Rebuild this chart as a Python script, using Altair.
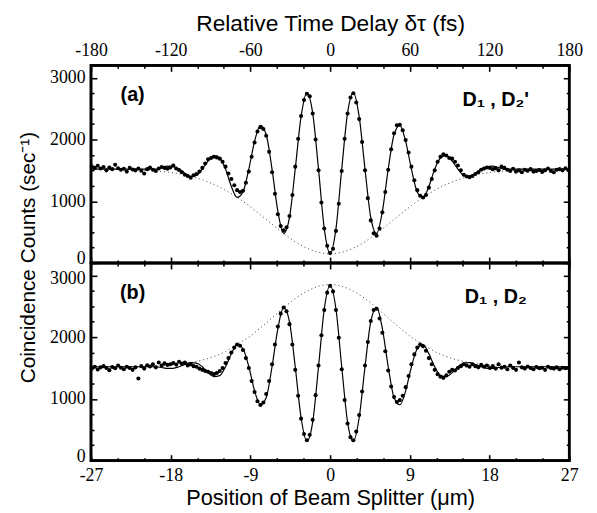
import altair as alt
import pandas as pd

# ---------------- data ----------------
DOT_X = [-26.90, -26.57, -26.24, -25.91, -25.58, -25.26, -24.93, -24.60, -24.27, -23.94,
         -23.62, -23.29, -22.96, -22.63, -22.30, -21.98, -21.65, -21.32, -20.99, -20.66,
         -20.34, -20.01, -19.68, -19.35, -19.02, -18.70, -18.37,
         -18.04, -17.71, -17.38, -17.06, -16.73, -16.40, -16.07, -15.74, -15.42, -15.09,
         -14.76, -14.43, -14.10, -13.78, -13.45, -13.12, -12.79, -12.46, -12.14, -11.81,
         -11.48, -11.15, -10.82, -10.50, -10.17, -9.84, -9.51, -9.18, -8.86, -8.53,
         -8.20, -7.87, -7.54, -7.22, -6.89, -6.56, -6.23, -5.90, -5.58, -5.25,
         -4.92, -4.59, -4.26, -3.94, -3.61, -3.28, -2.95, -2.62, -2.30, -1.97,
         -1.64, -1.31, -0.98, -0.66, -0.33,
         0.0,
         0.33, 0.66, 0.98, 1.31, 1.64, 1.97, 2.30, 2.62, 2.95, 3.28,
         3.61, 3.94, 4.26, 4.59, 4.92, 5.25, 5.58, 5.90, 6.23, 6.56,
         6.89, 7.22, 7.54, 7.87, 8.20, 8.53, 8.86, 9.18, 9.51, 9.84,
         10.17, 10.50, 10.82, 11.15, 11.48, 11.81, 12.14, 12.46, 12.79, 13.12,
         13.45, 13.78, 14.10, 14.43, 14.76, 15.09, 15.42, 15.74, 16.07, 16.40,
         16.73, 17.06, 17.38, 17.71, 18.04,
         18.37, 18.70, 19.02, 19.35, 19.68, 20.01, 20.34, 20.66, 20.99, 21.32,
         21.65, 21.98, 22.30, 22.63, 22.96, 23.29, 23.62, 23.94, 24.27, 24.60,
         24.93, 25.26, 25.58, 25.91, 26.24, 26.57, 26.90]

# panel (a): detectors D1, D2'
DOTS_A = [1560, 1540, 1575, 1530, 1555, 1500, 1545, 1520, 1590, 1535,
          1510, 1525, 1480, 1540, 1515, 1500, 1530, 1495, 1450, 1520,
          1545, 1510, 1490, 1530, 1555, 1540, 1525,
          1545, 1580, 1530, 1505, 1470, 1430, 1410, 1380, 1420, 1440,
          1480, 1540, 1610, 1680, 1700, 1720, 1710, 1690, 1640, 1560,
          1450, 1360, 1260, 1180, 1150, 1170, 1300, 1480, 1720, 1950,
          2130, 2200, 2170, 2060, 1800, 1470, 1120, 790, 600, 530,
          580, 760, 1100, 1560, 2010, 2380, 2640, 2740, 2700, 2420,
          2000, 1500, 980, 560, 280,
          160,
          230, 520, 960, 1490, 2010, 2420, 2680, 2750, 2600, 2330,
          1960, 1500, 1050, 690, 480, 440, 560, 820, 1150, 1510,
          1840, 2100, 2230, 2240, 2150, 1990, 1790, 1560, 1340, 1180,
          1090, 1060, 1100, 1220, 1360, 1500, 1640, 1720, 1760, 1740,
          1700, 1690, 1640, 1580, 1500, 1430, 1400, 1390, 1410, 1440,
          1470, 1510, 1530, 1545, 1540,
          1520, 1535, 1500, 1560, 1540, 1510, 1490, 1525, 1480, 1500,
          1470, 1510, 1495, 1520, 1480, 1490, 1505, 1475, 1500, 1530,
          1490, 1470, 1510, 1520, 1500, 1535, 1505]

# panel (b): detectors D1, D2
DOTS_B = [1490, 1520, 1475, 1510, 1530, 1500, 1465, 1515, 1495, 1540,
          1505, 1480, 1520, 1500, 1470, 1510, 1330, 1530, 1490, 1545,
          1525, 1560, 1510, 1590, 1540, 1575, 1550,
          1560, 1580, 1555, 1600, 1570, 1590, 1540, 1560, 1530, 1520,
          1490, 1470, 1450, 1440, 1420, 1400, 1420, 1450, 1500, 1580,
          1660, 1750, 1830, 1880, 1860, 1790, 1660, 1500, 1290, 1110,
          960, 900, 940, 1080, 1290, 1560, 1880, 2170, 2380, 2480,
          2420, 2210, 1880, 1470, 1050, 680, 430, 330, 420, 660,
          1060, 1540, 2030, 2440, 2720,
          2830,
          2740, 2440, 1990, 1480, 980, 600, 380, 330, 470, 740,
          1120, 1540, 1920, 2260, 2440, 2460, 2300, 2070, 1770, 1460,
          1200, 1030, 950, 980, 1050, 1190, 1370, 1560, 1720, 1830,
          1880, 1850, 1780, 1660, 1560, 1470, 1400, 1360, 1340, 1380,
          1440, 1470, 1460, 1500, 1530, 1560, 1540, 1520, 1560, 1530,
          1510, 1550, 1520, 1540, 1500,
          1530, 1490, 1560, 1505, 1520, 1480, 1540, 1500, 1470, 1590,
          1510, 1490, 1525, 1500, 1480, 1515, 1495, 1505, 1470, 1520,
          1500, 1490, 1510, 1480, 1505, 1495, 1500]

FIT_X = [-27, -22, -19.68, -19.02, -18.37, -17.71, -17.06, -16.40, -15.74, -15.09,
         -14.43, -13.78, -13.12, -12.46, -11.81, -11.15, -10.50, -9.84, -9.18, -8.53,
         -7.87, -7.22, -6.56, -5.90, -5.25, -4.59, -3.94, -3.28, -2.62, -1.97,
         -1.31, -0.66, 0.0, 0.66, 1.31, 1.97, 2.62, 3.28, 3.94, 4.59,
         5.25, 5.90, 6.56, 7.22, 7.87, 8.53, 9.18, 9.84, 10.50, 11.15,
         11.81, 12.46, 13.12, 13.78, 14.43, 15.09, 15.74, 16.40, 17.06, 17.71,
         18.37, 19.02, 19.68, 22, 27]
FIT_A = [1520, 1520, 1520, 1546, 1568, 1562, 1520, 1454, 1403, 1419,
         1520, 1650, 1740, 1700, 1520, 1239, 1062, 1150, 1520, 1970,
         2230, 2080, 1520, 836, 479, 735, 1520, 2370, 2760, 2430,
         1520, 556, 150, 556, 1520, 2430, 2760, 2370, 1520, 735,
         479, 836, 1520, 2080, 2230, 1970, 1520, 1150, 1062, 1239,
         1520, 1700, 1740, 1650, 1520, 1419, 1403, 1454, 1520, 1562,
         1568, 1546, 1520, 1520, 1520]
FIT_B = [1520, 1520, 1520, 1508, 1493, 1495, 1520, 1557, 1586, 1580,
         1520, 1425, 1360, 1376, 1520, 1729, 1880, 1812, 1520, 1130,
         905, 1019, 1520, 2137, 2480, 2249, 1520, 694, 310, 623,
         1520, 2455, 2840, 2455, 1520, 623, 310, 694, 1520, 2249,
         2480, 2137, 1520, 1019, 905, 1130, 1520, 1812, 1880, 1729,
         1520, 1376, 1360, 1425, 1520, 1580, 1586, 1557, 1520, 1495,
         1493, 1508, 1520, 1520, 1520]

ENV_X = [-20.99, -19.68, -18.37, -17.06, -15.74, -14.43, -13.12, -11.81, -10.50,
         -9.18, -7.87, -6.56, -5.25, -3.94, -2.62, -1.31, 0.0, 1.31, 2.62, 3.94,
         5.25, 6.56, 7.87, 9.18, 10.50, 11.81, 13.12, 14.43, 15.74, 17.06,
         18.37, 19.68, 20.99]
ENV_A = [1503, 1491, 1472, 1444, 1403, 1347, 1273, 1177, 1062,
         929, 780, 626, 479, 345, 240, 173, 150, 173, 240, 345,
         479, 626, 780, 929, 1062, 1177, 1273, 1347, 1403, 1444,
         1472, 1491, 1503]
ENV_B = [1525, 1532, 1542, 1560, 1586, 1628, 1686, 1767, 1880,
         2000, 2149, 2311, 2474, 2623, 2744, 2823, 2850, 2823, 2744, 2623,
         2474, 2311, 2149, 2000, 1880, 1767, 1686, 1628, 1586, 1560,
         1542, 1532, 1525]

X_MAJOR = [-27, -18, -9, 0, 9, 18, 27]
X_MINOR = [-24, -21, -15, -12, -6, -3, 3, 6, 12, 15, 21, 24]
Y_MAJOR = [0, 1000, 2000, 3000]
Y_MINOR = [250, 500, 750, 1250, 1500, 1750, 2250, 2500, 2750]

LABEL_X = [-22.3, 18.7]
LABELS_A = ["(a)", "D\u2081 , D\u2082'"]
LABELS_A_Y = [2720, 2640]
LABELS_B = ["(b)", "D\u2081 , D\u2082"]
LABELS_B_Y = [2720, 2650]

TITLE_TOP = "Relative Time Delay \u03b4\u03c4 (fs)"
TITLE_BOTTOM = "Position of Beam Splitter (\u03bcm)"
TITLE_Y = "Coincidence Counts (sec\u207b\u00b9)"

# ---------------- chart ----------------
FONT = "Liberation Sans"
NARROW = "Liberation Sans Narrow"
W, H = 484, 200

xscale = alt.Scale(domain=[-27, 27], nice=False, zero=False)
yscale = alt.Scale(domain=[0, 3200], nice=False, zero=False)


def axis(orient, values, size, labels=False, expr=None, **kw):
    args = dict(orient=orient, values=values, tickSize=size, offset=-size,
                domain=False, grid=False, labels=labels, tickColor="black",
                tickWidth=1.6, labelFlush=False, labelOverlap=False)
    if labels:
        args.update(labelExpr=expr, labelFont=NARROW, labelFontSize=18,
                    labelPadding=6, labelColor="black")
    if "title" not in kw:
        args["title"] = None
    args.update(kw)
    return alt.Axis(**args)


def panel(dots, fit, env, texts, texts_y, is_top):
    d_dots = pd.DataFrame({"x": DOT_X, "y": dots})
    d_fit = pd.DataFrame({"x": FIT_X, "y": fit})
    d_env = pd.DataFrame({"x": ENV_X, "y": env})
    d_txt = pd.DataFrame({"x": LABEL_X, "y": texts_y, "t": texts})

    if is_top:
        bottom_major = axis("bottom", X_MAJOR, 6)
        top_major = axis("top", X_MAJOR, 6, labels=True,
                         expr="'' + round(datum.value * 20 / 3)",
                         title=TITLE_TOP, titleFont=FONT, titleFontSize=23,
                         titleFontWeight="normal", titlePadding=6, titleColor="black")
        left_major = axis("left", Y_MAJOR, 6, labels=True, expr="'' + datum.value",
                          labelOffset={"condition": {"test": "datum.value == 0", "value": -4},
                                       "value": 0})
    else:
        bottom_major = axis("bottom", X_MAJOR, 6, labels=True,
                            expr="'' + datum.value",
                            title=TITLE_BOTTOM, titleFont=FONT, titleFontSize=22,
                            titleFontWeight="normal", titlePadding=3, titleColor="black")
        top_major = axis("top", X_MAJOR, 6)
        left_major = axis("left", Y_MAJOR, 6, labels=True, expr="'' + datum.value",
                          labelOffset={"condition": [
                              {"test": "datum.value == 3000", "value": 3},
                              {"test": "datum.value == 0", "value": -4}],
                              "value": 0},
                          title=TITLE_Y, titleFont=FONT, titleFontSize=21,
                          titleFontWeight="normal", titlePadding=11, titleColor="black",
                          titleY=-6)

    frame = alt.Chart(pd.DataFrame({"f": [0]})).mark_rect(
        fillOpacity=0, stroke="black", strokeWidth=2.6
    ).encode(x=alt.value(0), x2=alt.value(W), y=alt.value(0), y2=alt.value(H))

    env_layer = alt.Chart(d_env).mark_line(
        color="#555555", strokeWidth=1, strokeDash=[1.2, 2.8], interpolate="monotone"
    ).encode(
        x=alt.X("x:Q", scale=xscale, axis=axis("bottom", X_MINOR, 3)),
        y=alt.Y("y:Q", scale=yscale, axis=axis("left", Y_MINOR, 3)),
    )
    fit_layer = alt.Chart(d_fit).mark_line(
        color="black", strokeWidth=1.2, interpolate="monotone"
    ).encode(
        x=alt.X("x:Q", scale=xscale, axis=top_major),
        y=alt.Y("y:Q", scale=yscale, axis=axis("right", Y_MAJOR, 6)),
    )
    dot_layer = alt.Chart(d_dots).mark_circle(color="black", size=17, opacity=1).encode(
        x=alt.X("x:Q", scale=xscale, axis=bottom_major),
        y=alt.Y("y:Q", scale=yscale, axis=left_major),
    )
    txt_layer = alt.Chart(d_txt).mark_text(
        font=FONT, fontSize=20, fontWeight="bold", color="black",
        align="center", baseline="middle"
    ).encode(
        x=alt.X("x:Q", scale=xscale, axis=axis("top", X_MINOR, 3)),
        y=alt.Y("y:Q", scale=yscale, axis=axis("right", Y_MINOR, 3)),
        text="t:N",
    )
    return alt.layer(env_layer, fit_layer, dot_layer, txt_layer, frame).resolve_axis(
        x="independent", y="independent"
    ).properties(width=W, height=H)


pa = panel(DOTS_A, FIT_A, ENV_A, LABELS_A, LABELS_A_Y, True)
pb = panel(DOTS_B, FIT_B, ENV_B, LABELS_B, LABELS_B_Y, False)

chart = alt.vconcat(pa, pb, spacing=0, bounds="flush").properties(
    padding={"left": 8, "top": 0, "right": 5, "bottom": 5}
).configure(background="white").configure_view(stroke="black", strokeWidth=2.6)

chart.save("out.html", embed_options={"renderer": "svg", "actions": False})
